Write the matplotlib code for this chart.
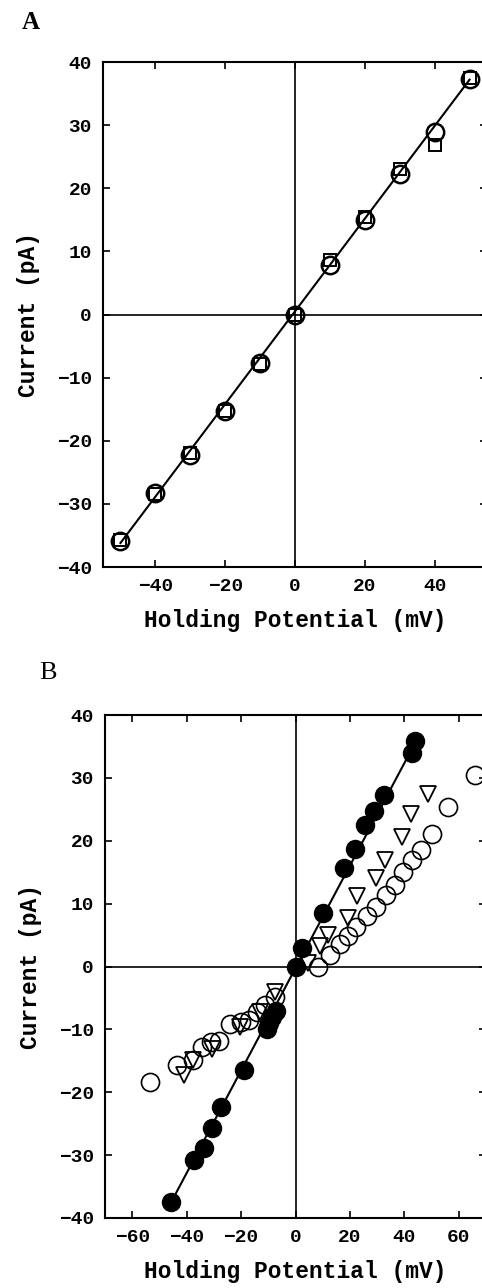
import matplotlib
matplotlib.use("Agg")
import matplotlib.pyplot as plt

# ---------------- Panel A data ----------------
a_x = [-50, -40, -30, -20, -10, 0, 10, 20, 30, 40, 50]
a_circ_y = [-35.9, -28.3, -22.2, -15.3, -7.7, 0.0, 7.8, 14.9, 22.2, 28.9, 37.3]
a_sq_y = [-35.8, -28.5, -22.0, -15.3, -7.8, 0.0, 8.6, 15.5, 23.1, 26.8, 37.5]
a_line_x = [-50, 50]
a_line_y = [-36.2, 37.2]

# ---------------- Panel B data ----------------
b_fill_x = [-45.7, -37.4, -33.8, -30.7, -27.4, -18.8, -10.3, -9.7, -8.8, -7.3,
            0.0, 2.5, 10.0, 17.8, 22.0, 25.6, 28.7, 32.5, 42.7, 43.9]
b_fill_y = [-37.5, -30.8, -28.8, -25.7, -22.3, -16.4, -10.0, -9.0, -8.0, -7.0,
            0.0, 3.0, 8.5, 15.7, 18.7, 22.5, 24.8, 27.3, 33.9, 35.8]
b_line_x = [-45.7, 43.5]
b_line_y = [-37.5, 35.2]

b_circ_x = [-53.3, -43.7, -37.7, -34.2, -31.0, -28.0, -24.0, -20.0, -17.0, -14.0,
            -11.2, -7.5, 8.4, 12.6, 16.3, 19.3, 22.4, 26.1, 29.7, 33.4, 36.4,
            39.5, 42.9, 46.2, 50.1, 56.0, 65.8]
b_circ_y = [-18.4, -15.7, -14.9, -12.8, -12.0, -11.9, -9.2, -8.9, -8.5, -7.2,
            -6.2, -4.8, -0.1, 1.8, 3.6, 4.9, 6.3, 8.1, 9.4, 11.3, 12.9,
            15.0, 16.9, 18.5, 21.0, 25.3, 30.4]

b_tri_x = [-41.0, -37.7, -30.7, -20.5, -13.0, -7.5, 4.5, 9.0, 12.0, 19.3, 22.5,
           29.4, 32.8, 39.0, 42.6, 48.8]
b_tri_y = [-17.2, -14.8, -13.2, -9.6, -7.3, -4.0, 0.5, 3.3, 5.0, 7.7, 11.2,
           14.1, 17.0, 20.6, 24.2, 27.5]

a_xticks = [-40, -20, 0, 20, 40]
b_xticks = [-60, -40, -20, 0, 20, 40, 60]
yticks = [-40, -30, -20, -10, 0, 10, 20, 30, 40]

W, H = 482, 1288
fig = plt.figure(figsize=(W / 100, H / 100), dpi=100)

MONO = "Liberation Mono"
label_font = dict(family=MONO, weight="bold", size=16.5)


def style(ax, xlim, xticks):
    ax.set_xlim(*xlim)
    ax.set_ylim(-40, 40)
    ax.set_xticks(xticks)
    ax.set_yticks(yticks)
    ax.tick_params(direction="in", top=True, right=True, length=5, width=1.2,
                   pad=8)
    for lab in ax.get_xticklabels() + ax.get_yticklabels():
        lab.set_fontfamily(MONO)
        lab.set_fontweight("bold")
        lab.set_fontsize(14)
    for s in ax.spines.values():
        s.set_linewidth(1.5)
    ax.axhline(0, color="black", lw=1.2, zorder=1)
    ax.axvline(0, color="black", lw=1.2, zorder=1)
    ax.set_xlabel("Holding Potential (mV)", labelpad=10, **label_font)
    ax.set_ylabel("Current (pA)", labelpad=12, **label_font)


# Panel A
axA = fig.add_axes([103 / W, 1 - 567 / H, 384 / W, 505 / H])
style(axA, (-55, 55), a_xticks)
axA.plot(a_line_x, a_line_y, color="black", lw=1.5, zorder=2)
axA.plot(a_x, a_sq_y, linestyle="none", marker="s", ms=9, mfc="none",
         mec="black", mew=1.4, zorder=3)
axA.plot(a_x, a_circ_y, linestyle="none", marker="o", ms=12.5, mfc="none",
         mec="black", mew=1.8, zorder=4)

# Panel B
axB = fig.add_axes([105 / W, 1 - 1218 / H, 381 / W, 503 / H])
style(axB, (-70, 70), b_xticks)
axB.plot(b_line_x, b_line_y, color="black", lw=1.5, zorder=2)
axB.plot(b_circ_x, b_circ_y, linestyle="none", marker="o", ms=13,
         mfc="none", mec="black", mew=1.2, zorder=3)
axB.plot(b_tri_x, b_tri_y, linestyle="none", marker="v", ms=12,
         mfc="none", mec="black", mew=1.3, zorder=3)
axB.plot(b_fill_x, b_fill_y, linestyle="none", marker="o", ms=13,
         mfc="black", mec="black", zorder=4)

fig.text(22 / W, 1 - 29 / H, "A", family="Liberation Serif", weight="bold",
         size=18)
fig.text(39 / W, 1 - 679 / H, "B", family="Liberation Serif", size=19)

fig.savefig("out.png", dpi=100)
